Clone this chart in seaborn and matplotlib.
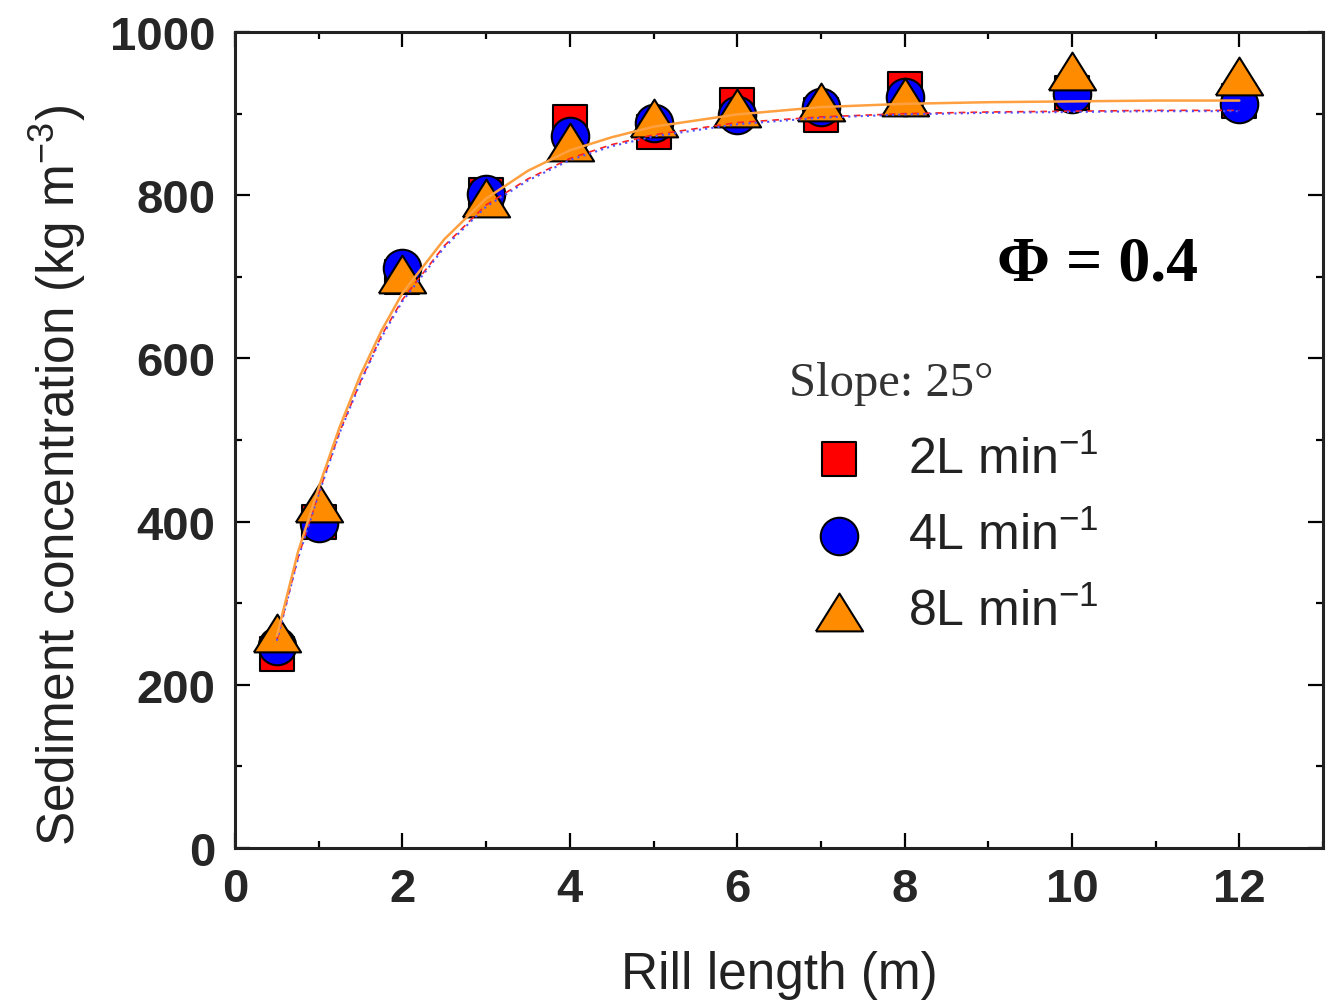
import numpy as np
import pandas as pd
import matplotlib
matplotlib.use("Agg")
import matplotlib.pyplot as plt
import seaborn as sns
from matplotlib.ticker import MultipleLocator
from matplotlib.font_manager import FontProperties

# -------------------------
# Data
# -------------------------
rill_length = [0.5, 1, 2, 3, 4, 5, 6, 7, 8, 10, 12]
conc_2L = [238, 400, 700, 800, 890, 878, 910, 898, 930, 925, 915]
conc_4L = [247, 398, 711, 801, 872, 889, 898, 908, 920, 924, 912]
conc_8L = [263, 423, 703, 797, 865, 895, 907, 914, 920, 952, 946]

# fitted curves
fit_x = [0.5, 0.75, 1, 1.25, 1.5, 1.75, 2, 2.5, 3, 3.5, 4, 4.5, 5, 6, 7, 8, 9, 10, 11, 12]
fit_2L = [255, 355, 435, 510, 572, 628, 672, 738, 788, 820, 845, 862, 874, 889, 896, 900, 902, 903, 904, 904]
fit_4L = [254, 354, 434, 509, 571, 626, 670, 736, 786, 818, 843, 860, 872, 887, 895, 899, 901, 902, 903, 903]
fit_8L = [260, 362, 442, 516, 580, 634, 680, 746, 796, 830, 855, 871, 884, 899, 908, 912, 914, 915, 916, 916]

labels = ["2L min$^{-1}$", "4L min$^{-1}$", "8L min$^{-1}$"]

# -------------------------
# Plot
# -------------------------
sns.set_style("ticks")
plt.rcParams['font.family'] = ['Liberation Sans', 'DejaVu Sans']
plt.rcParams['mathtext.default'] = 'regular'

fig = plt.figure(figsize=(13.31, 10.04), dpi=100)
ax = fig.add_axes([0.1766, 0.1544, 0.8174, 0.8127])

tri = [(-1, -0.8), (1, -0.8), (0, 0.8), (-1, -0.8)]

sns.scatterplot(x=rill_length, y=conc_2L, marker="s", s=25**2, color="#ff0000",
                edgecolor="black", linewidth=1.5, ax=ax, zorder=3)
sns.scatterplot(x=rill_length, y=conc_4L, marker="o", s=27**2, color="#0000ff",
                edgecolor="black", linewidth=1.5, ax=ax, zorder=4)
sns.scatterplot(x=rill_length, y=conc_8L, marker=tri, s=34**2, color="#ff8c00",
                edgecolor="black", linewidth=1.5, ax=ax, zorder=5)

sns.lineplot(x=fit_x, y=fit_2L, color="#ff2020", linestyle=(0, (4, 3)), linewidth=1.2, ax=ax, zorder=6)
sns.lineplot(x=fit_x, y=fit_4L, color="#5050ff", linestyle=(0, (1, 2)), linewidth=1.5, ax=ax, zorder=6)
sns.lineplot(x=fit_x, y=fit_8L, color="#ffa040", linestyle="-", linewidth=1.8, ax=ax, zorder=7)

ax.set_xlim(0, 13)
ax.set_ylim(0, 1000)
ax.xaxis.set_major_locator(MultipleLocator(2))
ax.xaxis.set_minor_locator(MultipleLocator(1))
ax.yaxis.set_major_locator(MultipleLocator(200))
ax.yaxis.set_minor_locator(MultipleLocator(100))
ax.tick_params(which="both", direction="in", top=True, right=True, width=1.6, color="black")
ax.tick_params(which="major", length=11, labelsize=34, pad=14)
ax.tick_params(which="minor", length=5)
for lab in ax.get_xticklabels() + ax.get_yticklabels():
    lab.set_fontweight("bold")
for sp in ax.spines.values():
    sp.set_linewidth(2.2)
    sp.set_color("#222222")

ax.set_xlabel("Rill length (m)", fontsize=37, labelpad=28, color="#222222")
ax.set_ylabel("Sediment concentration (kg m$^{-3}$)", fontsize=37, color="#222222")
ax.yaxis.set_label_coords(-0.135, 0.458)

ax.text(0.700, 0.697, "Φ = 0.4", transform=ax.transAxes, fontsize=46, fontweight="bold",
        va="baseline", family=["Liberation Serif", "DejaVu Serif"], color="black")

handles = [ax.collections[0], ax.collections[1], ax.collections[2]]
leg = ax.legend(handles, labels, title="Slope: 25°", loc="upper left",
                bbox_to_anchor=(0.486, 0.628), frameon=False, fontsize=36,
                handletextpad=0.38, labelspacing=0.58, borderpad=0,
                title_fontproperties=FontProperties(family="Liberation Serif", size=35),
                alignment="left")
for t in leg.get_texts():
    t.set_color("#222222")
leg.get_title().set_color("#333333")
leg._legend_box.sep = 22

fig.savefig("out.png", dpi=100, facecolor="white")
